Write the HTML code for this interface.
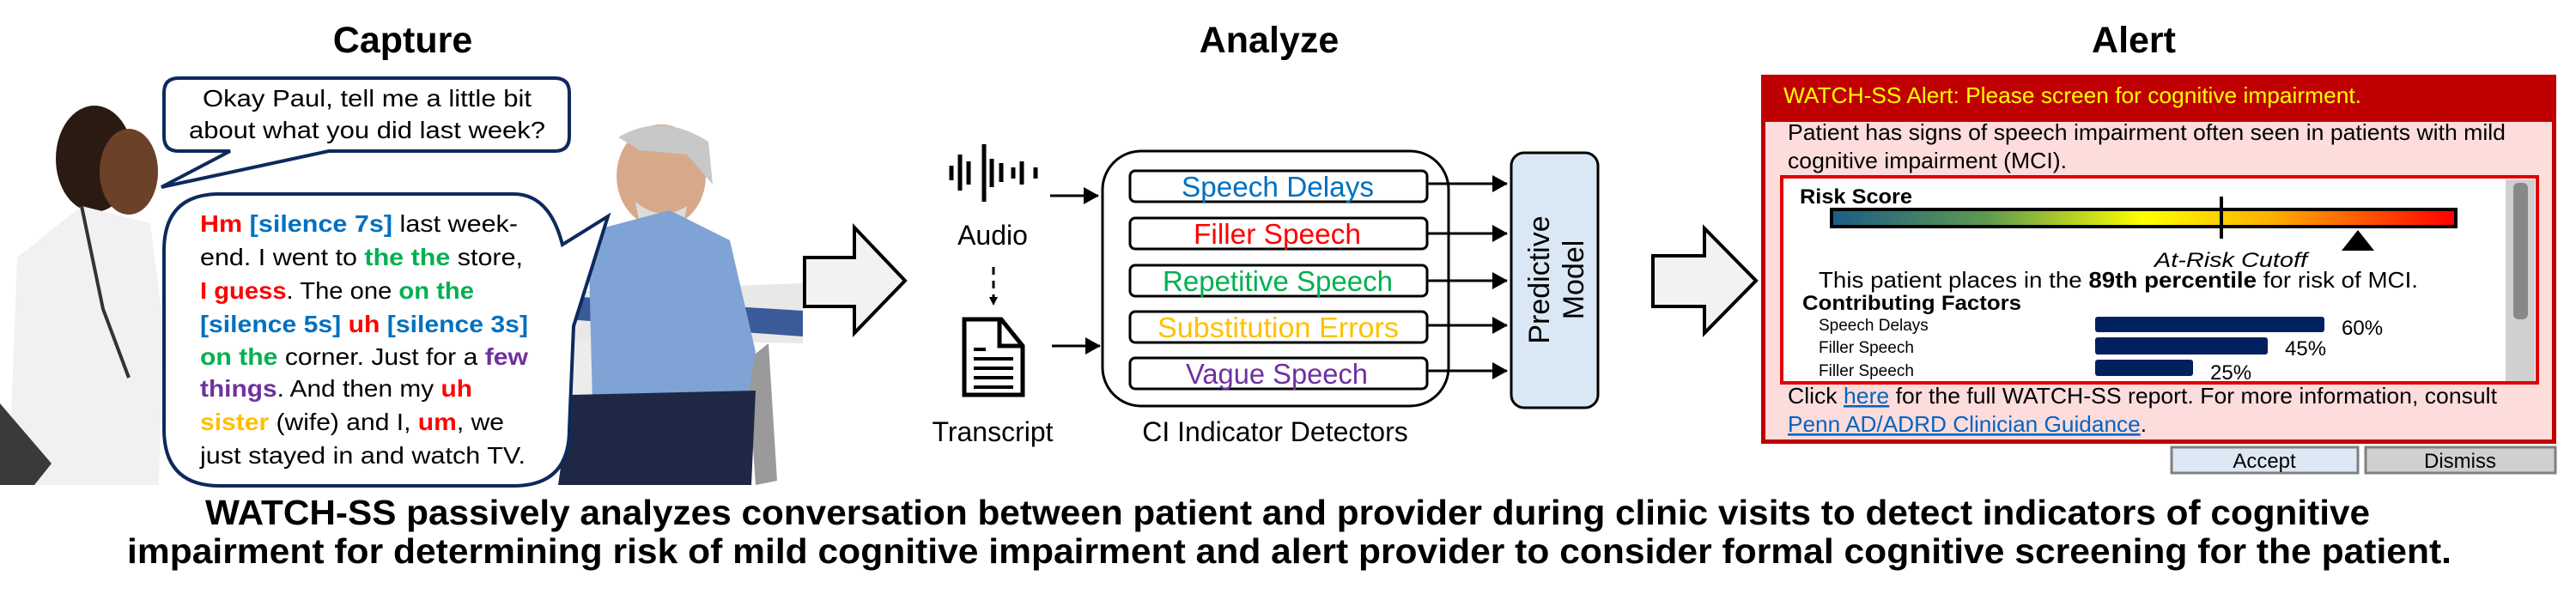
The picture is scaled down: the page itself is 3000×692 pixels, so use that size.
<!DOCTYPE html>
<html><head><meta charset="utf-8"><style>html,body{margin:0;padding:0;background:#fff}svg{display:block}</style></head>
<body>
<svg width="3000" height="692" viewBox="0 0 3000 692" xmlns="http://www.w3.org/2000/svg" font-family="Liberation Sans, sans-serif">
<defs>
<linearGradient id="rg" x1="0" x2="1" y1="0" y2="0">
<stop offset="0" stop-color="#1b5c86"/><stop offset="0.25" stop-color="#5f9a50"/><stop offset="0.5" stop-color="#ffff00"/><stop offset="0.7" stop-color="#ffb000"/><stop offset="1" stop-color="#ff0000"/>
</linearGradient>
<marker id="ah" markerWidth="10" markerHeight="10" refX="9" refY="5" orient="auto" markerUnits="userSpaceOnUse"><path d="M0,0 L10,5 L0,10 z" fill="#000"/></marker>
<marker id="ahb" markerWidth="18" markerHeight="20" refX="17" refY="10" orient="auto" markerUnits="userSpaceOnUse"><path d="M0,0 L18,10 L0,20 z" fill="#000"/></marker>
</defs>

<text x="469" y="61" font-size="43" font-weight="bold" text-anchor="middle">Capture</text>
<text x="1478" y="61" font-size="43" font-weight="bold" text-anchor="middle">Analyze</text>
<text x="2485" y="61" font-size="43" font-weight="bold" text-anchor="middle">Alert</text>

<!-- photo approximations -->
<path d="M660,340 L935,330 L935,400 L660,395 z" fill="#e8e8e8"/>
<path d="M660,345 L935,362 L935,392 L660,372 z" fill="#3a5a9a"/>
<rect x="660" y="395" width="60" height="170" fill="#ececec"/>
<path d="M870,420 L895,400 L905,560 L880,565 z" fill="#9a9a9a"/>
<ellipse cx="110" cy="185" rx="45" ry="62" fill="#2b1a12"/>
<ellipse cx="150" cy="200" rx="34" ry="50" fill="#6b4128"/>
<path d="M10,565 L20,300 L95,240 L175,260 L190,380 L185,565 z" fill="#f1f1f1"/>
<path d="M95,240 L120,360 L150,440" stroke="#333" stroke-width="4" fill="none"/>
<path d="M0,470 L60,540 L40,565 L0,565 z" fill="#3a3a3a"/>
<ellipse cx="770" cy="205" rx="52" ry="60" fill="#d7a98a"/>
<path d="M720,160 Q770,130 825,165 L830,215 L800,180 L745,175 z" fill="#c8c8c8"/>
<path d="M740,235 Q770,260 800,240 L795,265 L745,262 z" fill="#dcdcdc"/>
<path d="M685,270 L780,245 L850,280 L880,410 L870,470 L690,470 z" fill="#7fa3d4"/>
<path d="M665,460 L880,455 L875,565 L650,565 z" fill="#1e2844"/>

<path d="M208,91 L646,91 Q663,91 663,108 L663,159 Q663,176 646,176 L383,176 L188,218 L268,176 L208,176 Q191,176 191,159 L191,108 Q191,91 208,91 z" fill="#fff" stroke="#0d2a5e" stroke-width="4"/>
<text x="236" y="124" font-size="28" textLength="383" lengthAdjust="spacingAndGlyphs">Okay Paul, tell me a little bit</text>
<text x="220" y="161" font-size="28" textLength="415" lengthAdjust="spacingAndGlyphs">about what you did last week?</text>

<path d="M256,226 L598,226 Q640,226 655,285 L708,252 L668,380 L663,500 Q663,566 598,566 L256,566 Q191,566 191,500 L191,292 Q191,226 256,226 z" fill="#fff" stroke="#0d2a5e" stroke-width="4"/>
<g font-size="28">
<text x="233" y="270" textLength="370" lengthAdjust="spacingAndGlyphs"><tspan fill="#ff0000" font-weight="bold">Hm</tspan> <tspan fill="#0070c0" font-weight="bold">[silence 7s]</tspan> last week-</text>
<text x="233" y="309" textLength="376" lengthAdjust="spacingAndGlyphs">end. I went to <tspan fill="#00b050" font-weight="bold">the the</tspan> store,</text>
<text x="233" y="348" textLength="319" lengthAdjust="spacingAndGlyphs"><tspan fill="#ff0000" font-weight="bold">I guess</tspan>. The one <tspan fill="#00b050" font-weight="bold">on the</tspan></text>
<text x="233" y="387" textLength="382" lengthAdjust="spacingAndGlyphs"><tspan fill="#0070c0" font-weight="bold">[silence 5s]</tspan> <tspan fill="#ff0000" font-weight="bold">uh</tspan> <tspan fill="#0070c0" font-weight="bold">[silence 3s]</tspan></text>
<text x="233" y="425" textLength="382" lengthAdjust="spacingAndGlyphs"><tspan fill="#00b050" font-weight="bold">on the</tspan> corner. Just for a <tspan fill="#7030a0" font-weight="bold">few</tspan></text>
<text x="233" y="462" textLength="317" lengthAdjust="spacingAndGlyphs"><tspan fill="#7030a0" font-weight="bold">things</tspan>. And then my <tspan fill="#ff0000" font-weight="bold">uh</tspan></text>
<text x="233" y="501" textLength="354" lengthAdjust="spacingAndGlyphs"><tspan fill="#ffc000" font-weight="bold">sister</tspan> (wife) and I, <tspan fill="#ff0000" font-weight="bold">um</tspan>, we</text>
<text x="233" y="540" textLength="379" lengthAdjust="spacingAndGlyphs">just stayed in and watch TV.</text>
</g>

<path d="M937,300 L995,300 L995,265 L1054,327 L995,388 L995,357 L937,357 z" fill="#f2f2f2" stroke="#000" stroke-width="4"/>
<path d="M1925,298 L1985,298 L1985,266 L2045,327 L1985,388 L1985,357 L1925,357 z" fill="#f2f2f2" stroke="#000" stroke-width="4"/>

<g stroke="#000" stroke-width="5">
<line x1="1108" y1="193" x2="1108" y2="210"/><line x1="1118" y1="180" x2="1118" y2="222"/>
<line x1="1128" y1="188" x2="1128" y2="215"/><line x1="1146" y1="168" x2="1146" y2="235"/>
<line x1="1155" y1="185" x2="1155" y2="218"/><line x1="1166" y1="190" x2="1166" y2="212"/>
<line x1="1180" y1="195" x2="1180" y2="208"/><line x1="1190" y1="188" x2="1190" y2="215"/>
<line x1="1206" y1="195" x2="1206" y2="208"/>
</g>
<text x="1156" y="285" font-size="32" text-anchor="middle">Audio</text>
<line x1="1157" y1="311" x2="1157" y2="355" stroke="#000" stroke-width="3" stroke-dasharray="9,7" marker-end="url(#ah)"/>
<path d="M1123,372 L1166,372 L1191,403 L1191,460 L1123,460 z" fill="#fff" stroke="#000" stroke-width="5"/>
<path d="M1164,372 L1164,403 L1191,403" fill="none" stroke="#000" stroke-width="5"/>
<g stroke="#000" stroke-width="4"><line x1="1134" y1="407" x2="1148" y2="407"/><line x1="1134" y1="418" x2="1180" y2="418"/><line x1="1134" y1="429" x2="1180" y2="429"/><line x1="1134" y1="440" x2="1180" y2="440"/><line x1="1134" y1="451" x2="1180" y2="451"/></g>
<text x="1156" y="514" font-size="32" text-anchor="middle">Transcript</text>
<line x1="1223" y1="228" x2="1279" y2="228" stroke="#000" stroke-width="3" marker-end="url(#ahb)"/>
<line x1="1225" y1="403" x2="1281" y2="403" stroke="#000" stroke-width="3" marker-end="url(#ahb)"/>

<rect x="1284" y="176" width="403" height="297" rx="45" fill="#fff" stroke="#000" stroke-width="3"/>
<g stroke="#000" stroke-width="3" fill="#fff">
<rect x="1316" y="199" width="346" height="36" rx="6"/>
<rect x="1316" y="254" width="346" height="36" rx="6"/>
<rect x="1316" y="309" width="346" height="36" rx="6"/>
<rect x="1316" y="363" width="346" height="36" rx="6"/>
<rect x="1316" y="417" width="346" height="36" rx="6"/>
</g>
<g font-size="33">
<text x="1376" y="229" fill="#0070c0" textLength="224" lengthAdjust="spacingAndGlyphs">Speech Delays</text>
<text x="1390" y="284" fill="#ff0000" textLength="195" lengthAdjust="spacingAndGlyphs">Filler Speech</text>
<text x="1354" y="339" fill="#00b050" textLength="268" lengthAdjust="spacingAndGlyphs">Repetitive Speech</text>
<text x="1348" y="393" fill="#ffc000" textLength="281" lengthAdjust="spacingAndGlyphs">Substitution Errors</text>
<text x="1381" y="447" fill="#7030a0" textLength="212" lengthAdjust="spacingAndGlyphs">Vague Speech</text>
</g>
<g stroke="#000" stroke-width="3">
<line x1="1662" y1="214" x2="1755" y2="214" marker-end="url(#ahb)"/>
<line x1="1662" y1="272" x2="1755" y2="272" marker-end="url(#ahb)"/>
<line x1="1662" y1="327" x2="1755" y2="327" marker-end="url(#ahb)"/>
<line x1="1662" y1="379" x2="1755" y2="379" marker-end="url(#ahb)"/>
<line x1="1662" y1="432" x2="1755" y2="432" marker-end="url(#ahb)"/>
</g>
<text x="1485" y="514" font-size="32" text-anchor="middle">CI Indicator Detectors</text>
<rect x="1760" y="178" width="101" height="297" rx="15" fill="#dae8f6" stroke="#000" stroke-width="3"/>
<g transform="translate(1810,326) rotate(-90)" font-size="34" text-anchor="middle">
<text x="0" y="-6">Predictive</text>
<text x="0" y="34">Model</text>
</g>

<rect x="2051" y="87" width="926" height="430" fill="#c00000"/>
<rect x="2056" y="142" width="916" height="370" fill="#fddcdc"/>
<text x="2077" y="120" font-size="26" fill="#ffff00" textLength="673" lengthAdjust="spacingAndGlyphs">WATCH-SS Alert: Please screen for cognitive impairment.</text>
<text x="2082" y="163" font-size="26" textLength="836" lengthAdjust="spacingAndGlyphs">Patient has signs of speech impairment often seen in patients with mild</text>
<text x="2082" y="196" font-size="26" textLength="325" lengthAdjust="spacingAndGlyphs">cognitive impairment (MCI).</text>
<rect x="2075" y="206" width="880" height="240" fill="#fff" stroke="#e00000" stroke-width="4"/>
<rect x="2918" y="209" width="34" height="235" fill="#d0d0d0"/>
<rect x="2927" y="213" width="17" height="159" rx="6" fill="#888"/>
<text x="2096" y="237" font-size="24" font-weight="bold" textLength="131" lengthAdjust="spacingAndGlyphs">Risk Score</text>
<rect x="2133" y="244" width="727" height="20" fill="url(#rg)" stroke="#000" stroke-width="4"/>
<line x1="2587" y1="229" x2="2587" y2="278" stroke="#000" stroke-width="4"/>
<path d="M2746,268 L2765,292 L2727,292 z" fill="#000"/>
<text x="2598" y="311" font-size="24" font-style="italic" text-anchor="middle" textLength="178" lengthAdjust="spacingAndGlyphs">At-Risk Cutoff</text>
<text x="2118" y="335" font-size="26" textLength="698" lengthAdjust="spacingAndGlyphs">This patient places in the <tspan font-weight="bold">89th percentile</tspan> for risk of MCI.</text>
<text x="2099" y="361" font-size="24" font-weight="bold" textLength="255" lengthAdjust="spacingAndGlyphs">Contributing Factors</text>
<g font-size="19">
<text x="2118" y="385">Speech Delays</text>
<text x="2118" y="411">Filler Speech</text>
<text x="2118" y="438">Filler Speech</text>
</g>
<g fill="#002060">
<rect x="2440" y="369" width="267" height="18" rx="3"/>
<rect x="2440" y="393" width="201" height="20" rx="3"/>
<rect x="2440" y="419" width="114" height="19" rx="3"/>
</g>
<g font-size="24">
<text x="2727" y="390">60%</text>
<text x="2661" y="414">45%</text>
<text x="2574" y="442">25%</text>
</g>
<text x="2082" y="470" font-size="26" textLength="826" lengthAdjust="spacingAndGlyphs">Click <tspan fill="#0563c1" text-decoration="underline">here</tspan> for the full WATCH-SS report. For more information, consult</text>
<text x="2082" y="503" font-size="26" textLength="418" lengthAdjust="spacingAndGlyphs"><tspan fill="#0563c1" text-decoration="underline">Penn AD/ADRD Clinician Guidance</tspan>.</text>
<rect x="2529" y="521" width="217" height="30" fill="#dde8f5" stroke="#808080" stroke-width="3"/>
<rect x="2755" y="521" width="221" height="30" fill="#d0d0d0" stroke="#808080" stroke-width="3"/>
<text x="2637" y="545" font-size="24" text-anchor="middle">Accept</text>
<text x="2865" y="545" font-size="24" text-anchor="middle">Dismiss</text>

<text x="239" y="611" font-size="41" font-weight="bold" textLength="2521" lengthAdjust="spacingAndGlyphs">WATCH-SS passively analyzes conversation between patient and provider during clinic visits to detect indicators of cognitive</text>
<text x="148" y="656" font-size="41" font-weight="bold" textLength="2707" lengthAdjust="spacingAndGlyphs">impairment for determining risk of mild cognitive impairment and alert provider to consider formal cognitive screening for the patient.</text>
</svg>
</body></html>
